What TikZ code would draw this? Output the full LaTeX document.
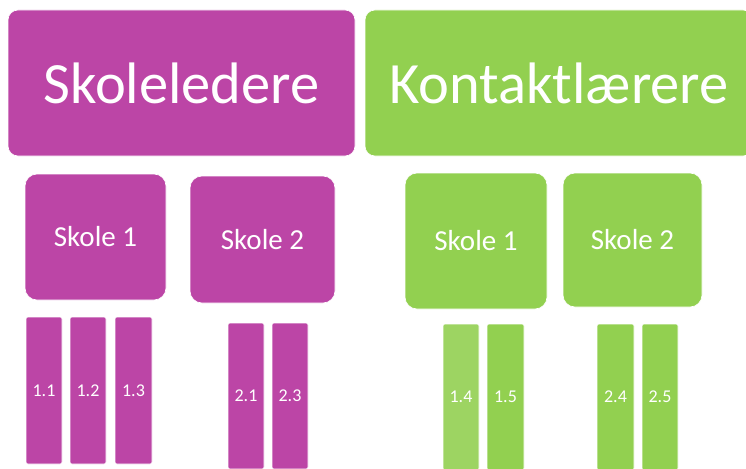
\documentclass[tikz,border=0pt]{standalone}
\usepackage{fontspec}
\setmainfont{Carlito}
\definecolor{plum}{RGB}{188,69,166}
\definecolor{leaf}{RGB}{146,208,80}
\definecolor{leaflight}{RGB}{157,212,98}
\tikzset{
  tile/.style={draw=white, line width=0.6pt, text=white, inner sep=0pt, align=center},
  headbox/.style={tile, rounded corners=10pt, font=\fontsize{58.5}{62}\selectfont},
  schoolbox/.style={tile, rounded corners=12pt, font=\fontsize{29}{32}\selectfont},
  classbar/.style={tile, rounded corners=2pt, minimum width=36pt, font=\fontsize{18}{20}\selectfont},
}
\begin{document}
\begin{tikzpicture}[x=1pt,y=-1pt]
\useasboundingbox (0,0) rectangle (746,468);
\clip (0,0) rectangle (746,468);
% top headings
\node[headbox, fill=plum, minimum width=347pt, minimum height=146pt] (ledere) at (181.5,83) {Skoleledere};
\node[headbox, fill=leaf, minimum width=388pt, minimum height=146pt] (kontakt) at (559,83) {Kontaktlærere};
% schools
\node[schoolbox, fill=plum, minimum width=141pt, minimum height=126pt] (ps1) at (95.5,237) {Skole 1};
\node[schoolbox, fill=plum, minimum width=145pt, minimum height=127pt] (ps2) at (262.5,239.5) {Skole 2};
\node[schoolbox, fill=leaf, minimum width=142pt, minimum height=136pt] (gs1) at (476,241) {Skole 1};
\node[schoolbox, fill=leaf, minimum width=139pt, minimum height=134pt] (gs2) at (632.5,240) {Skole 2};
% classes
\node[classbar, fill=plum, minimum height=147pt] (c11) at (44,390.5) {1.1};
\node[classbar, fill=plum, minimum height=147pt] (c12) at (88,390.5) {1.2};
\node[classbar, fill=plum, minimum height=147pt, minimum width=37pt] (c13) at (133.5,390.5) {1.3};
\node[classbar, fill=plum, minimum height=146pt] (c21) at (246,396) {2.1};
\node[classbar, fill=plum, minimum height=146pt] (c23) at (290,396) {2.3};
\node[classbar, fill=leaflight, minimum height=146pt] (c14) at (461,397) {1.4};
\node[classbar, fill=leaf, minimum height=146pt, minimum width=37pt] (c15) at (505.5,397) {1.5};
\node[classbar, fill=leaf, minimum height=146pt, minimum width=37pt] (c24) at (615.5,397) {2.4};
\node[classbar, fill=leaf, minimum height=146pt] (c25) at (660,397) {2.5};
\end{tikzpicture}
\end{document}
